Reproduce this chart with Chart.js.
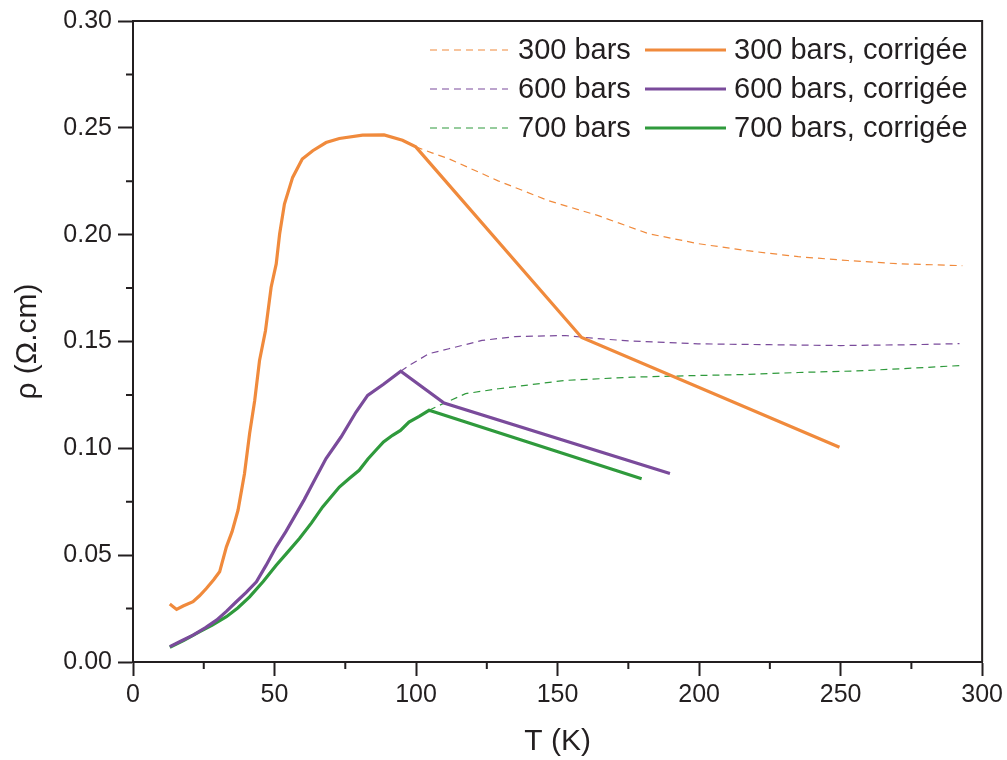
<!DOCTYPE html>
<html>
<head>
<meta charset="utf-8">
<script src="https://cdn.jsdelivr.net/npm/chart.js@4.4.1/dist/chart.umd.min.js"></script>
<style>
  html, body { margin: 0; padding: 0; background: #ffffff; }
  #wrap { width: 1007px; height: 760px; position: relative; }
</style>
</head>
<body>
<div id="wrap"><canvas id="rhoChart"></canvas></div>
<script>
// Data: T in K, rho in ohm.cm
const t300c = [13.0, 15.4, 17.7, 21.2, 23.5, 25.9, 28.5, 30.6, 33.0, 35.0, 37.1, 39.4, 41.2, 43.0, 44.7, 46.8, 48.8, 50.6, 51.8, 53.5, 56.4, 59.8, 63.5, 68.2, 72.9, 81.1, 88.7, 95.2, 99.9, 158.5, 249.6];
const rho300c = [0.0271, 0.0246, 0.0262, 0.0282, 0.0310, 0.0344, 0.0385, 0.0422, 0.0539, 0.0610, 0.0710, 0.0882, 0.1069, 0.1224, 0.1411, 0.1550, 0.1754, 0.1863, 0.2003, 0.2143, 0.2268, 0.2354, 0.2393, 0.2431, 0.2450, 0.2466, 0.2467, 0.2442, 0.2411, 0.1519, 0.1005];

const t300 = [99.9, 105.6, 111.6, 129, 146.8, 164.4, 182, 199.6, 217, 235, 252.5, 270, 293];
const rho300 = [0.2411, 0.2383, 0.2355, 0.2252, 0.2159, 0.2089, 0.2005, 0.1958, 0.1925, 0.1897, 0.1879, 0.1864, 0.1855];

const t600c = [13.0, 17.0, 21.2, 25.5, 29.5, 33.0, 36.5, 40.0, 43.6, 47.0, 50.6, 54.0, 57.0, 60.5, 63.5, 68.2, 73.5, 78.8, 82.9, 88.5, 94.6, 109.9, 189.7];
const rho600c = [0.0072, 0.0098, 0.0126, 0.0160, 0.0196, 0.0237, 0.0282, 0.0326, 0.0375, 0.0452, 0.0539, 0.0610, 0.0679, 0.0760, 0.0835, 0.0952, 0.1053, 0.1170, 0.1248, 0.1300, 0.1361, 0.1212, 0.0882];

const t600 = [94.6, 97.5, 104.6, 111.6, 123.3, 135.1, 152.7, 164.4, 176.2, 199.6, 225, 250, 275, 292];
const rho600 = [0.1361, 0.1388, 0.1443, 0.1466, 0.1505, 0.1523, 0.1528, 0.1513, 0.1502, 0.1489, 0.1485, 0.1481, 0.1485, 0.1490];

const t700c = [13.0, 18.0, 23.6, 28.0, 33.0, 37.0, 41.2, 46.0, 50.6, 54.5, 58.8, 63.0, 67.0, 72.9, 76.5, 79.9, 83.0, 85.8, 88.5, 91.7, 94.5, 97.5, 101.1, 104.6, 179.7];
const rho700c = [0.0069, 0.0101, 0.0142, 0.0173, 0.0212, 0.0253, 0.0305, 0.0377, 0.0453, 0.0512, 0.0578, 0.0650, 0.0726, 0.0819, 0.0860, 0.0897, 0.0950, 0.0991, 0.1030, 0.1061, 0.1084, 0.1123, 0.1150, 0.1178, 0.0858];

const t700 = [104.6, 106.9, 117.5, 129.2, 152.7, 176.2, 199.6, 215, 235, 255, 275, 293];
const rho700 = [0.1178, 0.1193, 0.1256, 0.1279, 0.1318, 0.1333, 0.1341, 0.1345, 0.1355, 0.1362, 0.1375, 0.1388];

const xTicks = [0, 50, 100, 150, 200, 250, 300];
const yTicks = [0, 0.05, 0.10, 0.15, 0.20, 0.25, 0.30];

const ORANGE = '#f08a3c';
const PURPLE = '#7a4b9b';
const GREEN = '#2f9a3c';
const INK = '#231f20';
const FONT = "'Liberation Sans', Arial, sans-serif";

function pts(ts, rs) {
  return ts.map((t, i) => ({ x: t, y: rs[i] }));
}

function raw(label, color, ts, rs) {
  return { label, data: pts(ts, rs), borderColor: color, borderWidth: 1.2, borderDash: [7, 5], order: 2 };
}
function corr(label, color, ts, rs) {
  return { label, data: pts(ts, rs), borderColor: color, borderWidth: 3.2, order: 1 };
}

// minor ticks + top/right frame
const framePlugin = {
  id: 'frame',
  afterDraw(chart) {
    const { ctx, chartArea: a, scales } = chart;
    ctx.save();
    ctx.strokeStyle = INK;
    ctx.lineWidth = 2;
    ctx.beginPath();
    ctx.moveTo(a.left, a.top);
    ctx.lineTo(a.right, a.top);
    ctx.lineTo(a.right, a.bottom);
    for (let i = 0; i < xTicks.length - 1; i++) {
      const px = scales.x.getPixelForValue((xTicks[i] + xTicks[i + 1]) / 2);
      ctx.moveTo(px, a.bottom);
      ctx.lineTo(px, a.bottom + 7);
    }
    for (let i = 0; i < yTicks.length - 1; i++) {
      const py = scales.y.getPixelForValue((yTicks[i] + yTicks[i + 1]) / 2);
      ctx.moveTo(a.left, py);
      ctx.lineTo(a.left - 7, py);
    }
    ctx.stroke();
    ctx.restore();
  }
};

// two-column legend, top right
const legendPlugin = {
  id: 'pairLegend',
  afterDraw(chart) {
    const { ctx } = chart;
    const ds = chart.data.datasets;
    const cols = [{ x0: 430, x1: 508, tx: 518 }, { x0: 645, x1: 726, tx: 734 }];
    ctx.save();
    ctx.font = '29px ' + FONT;
    ctx.textBaseline = 'middle';
    ctx.textAlign = 'left';
    for (let r = 0; r < 3; r++) {
      const y = 50 + r * 39;
      for (let c = 0; c < 2; c++) {
        const d = ds[r * 2 + c];
        const col = cols[c];
        ctx.strokeStyle = d.borderColor;
        ctx.lineWidth = d.borderWidth;
        ctx.setLineDash(d.borderDash || []);
        ctx.beginPath();
        ctx.moveTo(col.x0, y);
        ctx.lineTo(col.x1, y);
        ctx.stroke();
        ctx.setLineDash([]);
        ctx.fillStyle = INK;
        ctx.fillText(d.label, col.tx, y + 1);
      }
    }
    ctx.restore();
  }
};

new Chart(document.getElementById('rhoChart'), {
  type: 'scatter',
  data: {
    datasets: [
      raw('300 bars', ORANGE, t300, rho300),
      corr('300 bars, corrigée', ORANGE, t300c, rho300c),
      raw('600 bars', PURPLE, t600, rho600),
      corr('600 bars, corrigée', PURPLE, t600c, rho600c),
      raw('700 bars', GREEN, t700, rho700),
      corr('700 bars, corrigée', GREEN, t700c, rho700c)
    ]
  },
  options: {
    responsive: true,
    maintainAspectRatio: false,
    animation: false,
    showLine: true,
    elements: {
      point: { radius: 0, hoverRadius: 0 },
      line: { tension: 0, fill: false }
    },
    layout: { padding: { top: 20, right: 22, left: 0, bottom: 0 } },
    plugins: {
      legend: { display: false },
      tooltip: { enabled: false }
    },
    scales: {
      x: {
        type: 'linear',
        min: 0,
        max: 300,
        afterFit: s => { s.height = 98; },
        afterBuildTicks: s => { s.ticks = xTicks.map(v => ({ value: v })); },
        ticks: { color: INK, font: { family: FONT, size: 25 }, padding: 4, maxRotation: 0 },
        grid: { drawOnChartArea: false, drawTicks: true, tickLength: 14, tickWidth: 2, tickColor: INK },
        border: { color: INK, width: 2 },
        title: { display: true, text: 'T (K)', color: INK, font: { family: FONT, size: 30 }, padding: { top: 0, bottom: 0 } }
      },
      y: {
        type: 'linear',
        min: 0,
        max: 0.3,
        afterFit: s => { s.width = 133; },
        afterBuildTicks: s => { s.ticks = yTicks.map(v => ({ value: v })); },
        ticks: { color: INK, font: { family: FONT, size: 25 }, padding: 6, callback: v => v.toFixed(2) },
        grid: { drawOnChartArea: false, drawTicks: true, tickLength: 15, tickWidth: 2, tickColor: INK },
        border: { color: INK, width: 2 },
        title: { display: true, text: 'ρ (Ω.cm)', color: INK, font: { family: FONT, size: 30 }, padding: { top: 10, bottom: 0 } }
      }
    }
  },
  plugins: [framePlugin, legendPlugin]
});
</script>
</body>
</html>
